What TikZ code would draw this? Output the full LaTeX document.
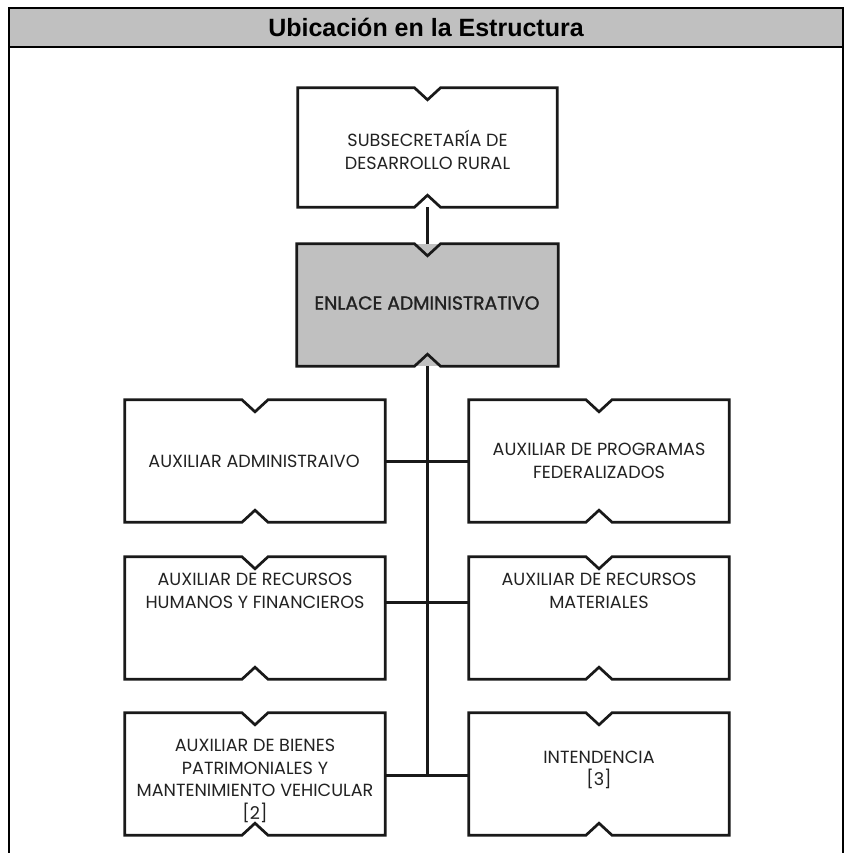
\documentclass[tikz,border=0pt]{standalone}
\usepackage{fontspec}
\newfontfamily\boxfont{Poppins}
\newfontfamily\boxfontmed[FakeBold=1.3]{Poppins}
\newfontfamily\headfont{Liberation Sans}
\usetikzlibrary{calc}
\definecolor{panelgray}{HTML}{C0C0C0}
\definecolor{inkgray}{HTML}{222222}

\tikzset{
  orgbox/.style={minimum width=260pt, minimum height=122pt, inner sep=0pt, fill=white},
  boxtext/.style={font=\boxfont\fontsize{17.6}{22.5}\selectfont, text=inkgray, align=center, inner sep=0pt},
  outline/.style={line width=2.7pt, draw=black!90, line join=miter},
  link/.style={line width=3pt, draw=black!90},
  spine/.style={line width=3.5pt, draw=black!90},
  frame/.style={line width=2.6pt, draw=black},
}
% box edge with an inward V notch in the middle of the top and bottom sides
\newcommand\notchedoutline[1]{%
  \draw[outline] (#1.north west) -- ([xshift=-13pt]#1.north) -- ([yshift=-12pt]#1.north)
    -- ([xshift=13pt]#1.north) -- (#1.north east) -- (#1.south east)
    -- ([xshift=13pt]#1.south) -- ([yshift=12pt]#1.south) -- ([xshift=-13pt]#1.south)
    -- (#1.south west) -- cycle;}

\begin{document}
\begin{tikzpicture}[x=1pt,y=-1pt]
\useasboundingbox (0,0) rectangle (845,853);

% panel and title bar
\fill[panelgray] (9,8) rectangle (843,47);
\draw[frame] (9,853) -- (9,8) -- (843,8) -- (843,853);
\draw[frame] (9,47) -- (843,47);
\node[font=\headfont\bfseries\fontsize{25}{28}\selectfont, inner sep=0pt] (title) at (426,27.5) {Ubicación en la Estructura};

% boxes
\node[orgbox, minimum width=259pt, minimum height=119pt] (sub) at (427.5,147.5) {};
\node[orgbox, minimum width=261pt, fill=panelgray] (enl) at (427.5,305) {};
\node[orgbox] (r1l) at (255,461) {};
\node[orgbox] (r1r) at (599,461) {};
\node[orgbox] (r2l) at (255,618) {};
\node[orgbox] (r2r) at (599,618) {};
\node[orgbox] (r3l) at (255,774) {};
\node[orgbox] (r3r) at (599,774) {};
\foreach \b in {sub,enl,r1l,r1r,r2l,r2r,r3l,r3r} {\notchedoutline{\b}}

% labels
\node[boxtext] (t-sub) at (427.5,150) {SUBSECRETARÍA DE\\DESARROLLO RURAL};
\node[boxtext, font=\boxfontmed\fontsize{18.8}{22.5}\selectfont] (t-enl) at (427,303) {ENLACE ADMINISTRATIVO};
\node[boxtext] (t-r1l) at (254,461) {AUXILIAR ADMINISTRAIVO};
\node[boxtext] (t-r1r) at (599,461) {AUXILIAR DE PROGRAMAS\\FEDERALIZADOS};
\node[boxtext] (t-r2l) at (255,591) {AUXILIAR DE RECURSOS\\HUMANOS Y FINANCIEROS};
\node[boxtext] (t-r2r) at (599,591) {AUXILIAR DE RECURSOS\\MATERIALES};
\node[boxtext] (t-r3l) at (255,781) {AUXILIAR DE BIENES\\PATRIMONIALES Y\\MANTENIMIENTO VEHICULAR\\{[2]}};
\node[boxtext] (t-r3r) at (599,770) {INTENDENCIA\\{[3]}};

% connectors
\coordinate (j2) at (427.5,602);
\coordinate (j3) at (427.5,775);
\draw[link] (sub.south) -- (enl.north);
\draw[spine] (enl.south) -- (j3);
\draw[link] (r1l.east) -- (r1r.west);
\draw[link] (r2l.east |- j2) -- (r2r.west |- j2);
\draw[link] (r3l.east |- j3) -- (r3r.west |- j3);
\end{tikzpicture}
\end{document}
